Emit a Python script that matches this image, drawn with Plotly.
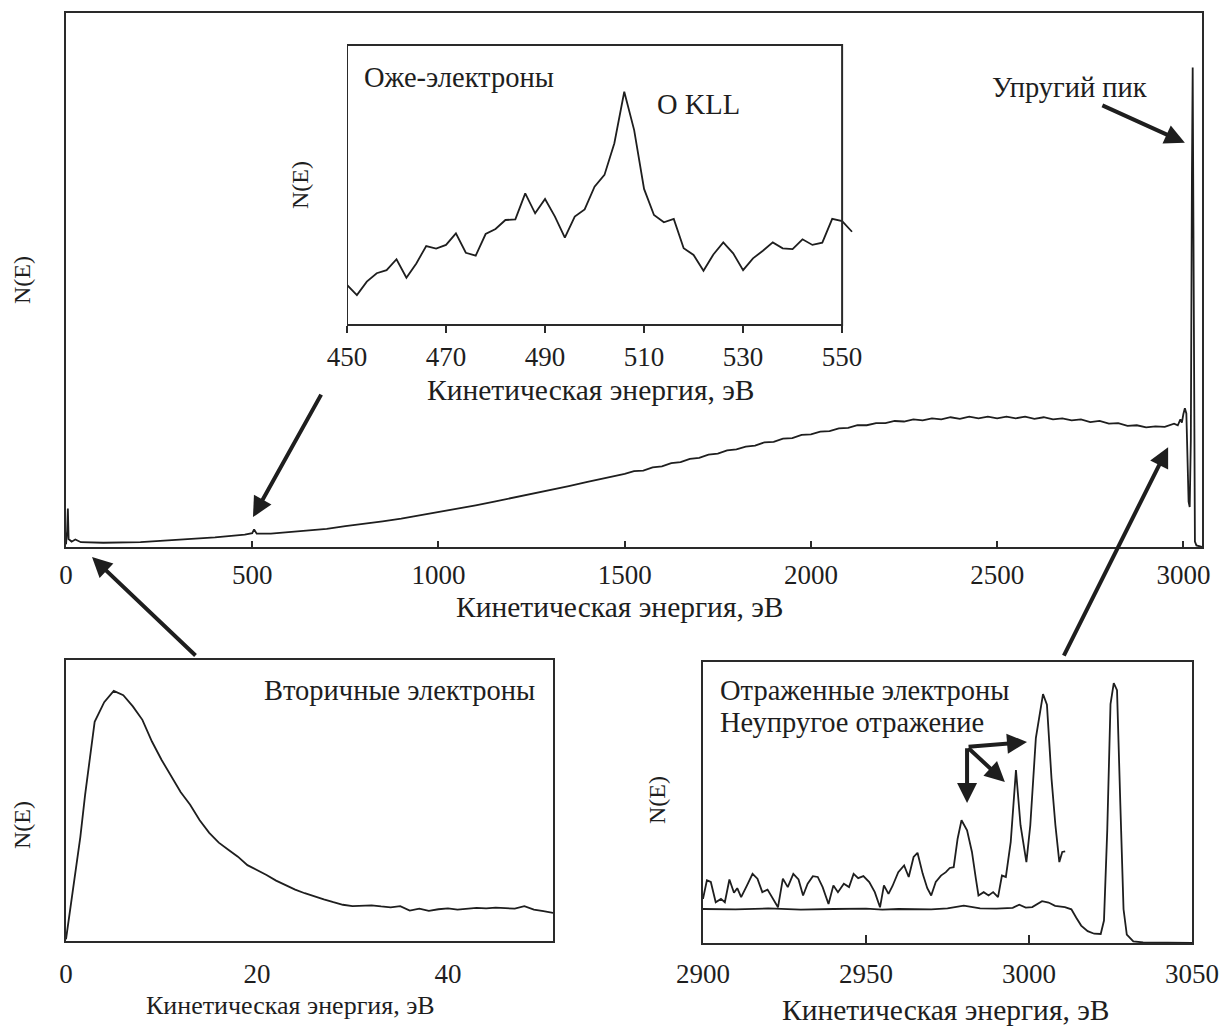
import plotly.graph_objects as go

# ---------------- data ----------------
# Full spectrum N(E), % of axis height
main_energy = [0, 3, 5, 7, 15, 25, 40, 100, 200, 300, 400, 480, 500, 505, 512, 550,
               600, 650, 700, 750, 800, 850, 900, 950, 1000, 1050, 1100, 1150, 1200,
               1250, 1300, 1350, 1400, 1450, 1500, 1525, 1550, 1575, 1600, 1625, 1650,
               1675, 1700, 1725, 1750, 1775, 1800, 1825, 1850, 1875, 1900, 1925, 1950,
               1975, 2000, 2025, 2050, 2075, 2100, 2125, 2150, 2175, 2200, 2225, 2250,
               2275, 2300, 2325, 2350, 2375, 2400, 2425, 2450, 2475, 2500, 2525, 2550,
               2575, 2600, 2625, 2650, 2675, 2700, 2725, 2750, 2775, 2800, 2825, 2850,
               2875, 2900, 2925, 2950, 2975, 2985, 2992, 2996, 3000, 3004, 3008, 3011,
               3014, 3017, 3020, 3023, 3025, 3027, 3029, 3031, 3035, 3050]
main_counts = [0.5, 3.0, 7.2, 1.5, 1.0, 1.4, 0.9, 0.8, 0.9, 1.3, 1.8, 2.3, 2.6, 3.3, 2.5, 2.5,
               2.8, 3.1, 3.4, 3.9, 4.3, 4.8, 5.3, 5.9, 6.5, 7.1, 7.8, 8.5, 9.2,
               9.9, 10.7, 11.4, 12.2, 12.9, 13.7, 14.2, 14.3, 14.9, 15.1, 15.7, 15.9,
               16.5, 16.7, 17.3, 17.5, 18.1, 18.3, 18.8, 19.0, 19.6, 19.7, 20.3, 20.4,
               21.0, 21.1, 21.6, 21.7, 22.2, 22.3, 22.8, 22.8, 23.2, 23.2, 23.6, 23.5,
               23.9, 23.7, 24.1, 23.9, 24.3, 24.0, 24.4, 24.1, 24.4, 24.1, 24.4, 24.1,
               24.4, 24.0, 24.3, 23.9, 24.1, 23.7, 23.9, 23.4, 23.6, 23.1, 23.2, 22.7,
               22.8, 22.4, 22.6, 22.5, 23.1, 22.8, 23.9, 23.3, 24.9, 26.0, 25.0, 17.0,
               8.5, 7.5, 20.0, 70.0, 89.8, 60.0, 8.0, 1.0, 0.3, 0.0]

# Auger region, O KLL
auger_energy = list(range(450, 553, 2))
auger_counts = [14.3, 10.7, 15.5, 18.5, 19.6, 23.5, 16.9, 22.0, 28.2, 27.3, 28.6, 32.7,
                25.8, 24.8, 32.5, 34.3, 37.5, 37.7, 47.0, 39.9, 45.0, 38.7, 31.2, 38.7,
                41.3, 49.4, 53.6, 64.9, 83.3, 69.6, 48.6, 39.3, 36.7, 37.9, 27.4, 25.0,
                19.4, 25.2, 29.5, 25.6, 19.6, 23.8, 26.5, 29.5, 27.4, 27.1, 30.6, 28.6,
                29.4, 37.9, 37.1, 33.3]

# Secondary electrons
sec_energy = [0, 1, 1.5, 2, 3, 4, 5, 6, 7, 8, 9, 10, 11, 12, 13, 14, 15, 16, 17, 18, 19,
              20, 21, 22, 23, 24, 25, 26, 27, 28, 29, 30, 31, 32, 33, 34, 35, 36, 37,
              38, 39, 40, 41, 42, 43, 44, 45, 46, 47, 48, 49, 50, 51]
sec_counts = [0.6, 25, 37, 52, 78, 85, 89, 87.5, 83.5, 78.7, 71, 64.5, 58.5, 53, 48.5,
              43, 38.5, 35, 32.5, 30, 27, 25.3, 23.5, 21.5, 19.8, 18.3, 17, 15.8, 14.8,
              13.8, 12.9, 12.4, 12.5, 12.7, 12.3, 12.0, 12.4, 10.8, 11.5, 10.7, 11.3,
              11.6, 11.2, 11.6, 11.8, 11.6, 11.9, 11.7, 11.5, 12.4, 11.2, 10.6, 10.0]

# Reflected electrons: magnified loss region
loss_energy = [2900.0, 2901.2, 2902.4, 2903.9, 2905.5, 2906.7, 2908.1, 2909.5, 2910.5,
               2911.7, 2913.5, 2915.2, 2916.7, 2918.2, 2919.8, 2921.4, 2923.0, 2924.5,
               2926.0, 2927.7, 2929.3, 2930.7, 2932.1, 2933.7, 2935.2, 2936.7, 2938.5,
               2940.0, 2941.4, 2943.2, 2944.8, 2946.2, 2947.6, 2949.2, 2951.0, 2952.7,
               2954.3, 2955.5, 2956.9, 2958.1, 2959.9, 2961.7, 2963.1, 2964.6, 2965.8,
               2967.4, 2968.8, 2970.0, 2971.4, 2973.0, 2974.5, 2975.7, 2976.9, 2978.1,
               2979.3, 2981.0, 2982.5, 2983.7, 2984.5, 2986.1, 2987.6, 2989.0, 2990.5,
               2991.7, 2992.9, 2994.4, 2996.0, 2997.4, 2999.2, 3000.4, 3002.1, 3004.3,
               3005.5, 3006.9, 3008.1, 3009.3, 3010.2, 3011.1]
loss_counts = [15.7, 22.3, 21.7, 14.5, 15.7, 14.5, 22.6, 17.9, 19.5, 16.3, 20.5, 24.6,
               22.9, 18.1, 19.0, 15.7, 12.7, 22.9, 19.9, 24.6, 22.6, 16.9, 21.1, 23.8,
               23.5, 19.9, 13.9, 20.5, 18.1, 21.1, 19.9, 24.6, 23.1, 23.8, 21.7, 18.1,
               12.7, 20.5, 17.5, 20.2, 25.2, 27.6, 23.5, 30.6, 32.1, 24.6, 19.5, 16.9,
               21.7, 24.0, 25.2, 26.7, 27.0, 37.1, 43.7, 40.1, 32.4, 22.9, 16.9, 18.1,
               16.9, 18.1, 16.3, 24.0, 23.5, 36.0, 61.5, 41.9, 28.8, 41.9, 72.9, 88.6,
               84.8, 58.6, 41.9, 28.8, 32.4, 32.6]

# Reflected electrons: unscaled spectrum with elastic peak
refl_energy = [2900, 2910, 2920, 2930, 2940, 2950, 2955, 2960, 2970, 2975, 2980, 2985,
               2990, 2995, 2997, 2999, 3001, 3004, 3006, 3008, 3011, 3013, 3014.5, 3016,
               3018, 3020, 3022, 3023, 3024, 3025, 3026, 3027, 3028, 3029, 3030, 3032,
               3035, 3050]
refl_counts = [12.1, 12.0, 12.3, 11.9, 12.1, 12.2, 11.9, 12.1, 12.0, 12.3, 13.3, 12.3,
               12.2, 12.5, 13.6, 12.6, 12.8, 14.9, 14.4, 13.2, 12.8, 12.0, 9.0, 6.2,
               4.2, 3.3, 3.2, 8.0, 40.0, 85.0, 92.5, 90.0, 50.0, 12.0, 3.0, 0.6,
               0.2, 0.0]

main_ticks = [0, 500, 1000, 1500, 2000, 2500, 3000]
auger_ticks = [450, 470, 490, 510, 530, 550]
sec_ticks = [0, 20, 40]
refl_ticks = [2900, 2950, 3000, 3050]

x_title = "Кинетическая энергия, эВ"
y_title = "N(E)"

# ---------------- styling ----------------
W, H = 1229, 1030
FONT = "Liberation Serif"
INK = "#1e1e1e"
LINE = dict(color=INK, width=1.8)
TICK_SIZE = 27
CAPTION_SIZE = 28.5
TITLE_SIZE = 29.5


def px(x):
    return x / W


def py(y):
    return 1 - y / H


fig = go.Figure()
fig.add_trace(go.Scatter(x=main_energy, y=main_counts, mode="lines", line=LINE,
                         xaxis="x", yaxis="y"))
fig.add_trace(go.Scatter(x=auger_energy, y=auger_counts, mode="lines", line=LINE,
                         xaxis="x2", yaxis="y2"))
fig.add_trace(go.Scatter(x=sec_energy, y=sec_counts, mode="lines", line=LINE,
                         xaxis="x3", yaxis="y3"))
fig.add_trace(go.Scatter(x=loss_energy, y=loss_counts, mode="lines", line=LINE,
                         xaxis="x4", yaxis="y4"))
fig.add_trace(go.Scatter(x=refl_energy, y=refl_counts, mode="lines", line=LINE,
                         xaxis="x4", yaxis="y4"))

tickfont = dict(family=FONT, size=TICK_SIZE, color=INK)
frame = dict(showline=True, linecolor="#2a2a2a", linewidth=2, mirror=True,
             showgrid=False, zeroline=False)

fig.update_layout(
    width=W, height=H,
    margin=dict(l=0, r=0, t=0, b=0, autoexpand=False),
    paper_bgcolor="white", plot_bgcolor="rgba(0,0,0,0)",
    showlegend=False,
    font=dict(family=FONT, color=INK),
    # full spectrum
    xaxis=dict(domain=[px(66), px(1202)], range=[0, 3050], anchor="y",
               tickvals=main_ticks, ticks="inside", ticklen=6, tickwidth=1.5,
               tickcolor="#2a2a2a", tickfont=tickfont, ticklabelstandoff=3, **frame),
    yaxis=dict(domain=[py(547), py(13)], range=[0, 100], anchor="x",
               showticklabels=False, ticks="", **frame),
    # Auger inset (curve runs slightly past the frame on the right)
    xaxis2=dict(domain=[px(347), px(853)], range=[450, 552.2], anchor="y2",
                tickvals=auger_ticks, ticks="outside", ticklen=7, tickwidth=1.5,
                tickcolor="#2a2a2a", tickfont=tickfont, ticklabelstandoff=1,
                showline=False, showgrid=False, zeroline=False),
    yaxis2=dict(domain=[py(325), py(45)], range=[0, 100], anchor="x2",
                showticklabels=False, ticks="", showline=False, showgrid=False,
                zeroline=False),
    # secondary electrons
    xaxis3=dict(domain=[px(66), px(553)], range=[0, 51], anchor="y3",
                tickvals=sec_ticks, ticks="", tickfont=tickfont,
                ticklabelstandoff=8, **frame),
    yaxis3=dict(domain=[py(941), py(660)], range=[0, 100], anchor="x3",
                showticklabels=False, ticks="", **frame),
    # reflected electrons
    xaxis4=dict(domain=[px(703), px(1192)], range=[2900, 3050], anchor="y4",
                tickvals=refl_ticks, ticks="inside", ticklen=8, tickwidth=1.5,
                tickcolor="#2a2a2a", tickfont=tickfont, ticklabelstandoff=6, **frame),
    yaxis4=dict(domain=[py(943), py(662)], range=[0, 100], anchor="x4",
                showticklabels=False, ticks="", **frame),
)

# frame of the Auger inset
fig.add_shape(type="rect", xref="x2", yref="y2 domain", x0=450, x1=550, y0=0, y1=1,
              line=dict(color="#2a2a2a", width=2), fillcolor="rgba(0,0,0,0)")


def label(x, y, text, xanchor="center", angle=0, size=CAPTION_SIZE):
    fig.add_annotation(x=px(x), y=py(y), xref="paper", yref="paper", text=text,
                       showarrow=False, xanchor=xanchor, yanchor="middle",
                       textangle=angle, font=dict(family=FONT, size=size, color=INK))


# axis titles
label(620, 607, x_title, size=TITLE_SIZE)
label(591, 390, x_title, size=TITLE_SIZE)
label(290, 1005, x_title, size=26)
label(946, 1010, x_title, size=TITLE_SIZE)
label(22, 280, y_title, angle=-90, size=24)
label(300, 185, y_title, angle=-90, size=24)
label(22, 825, y_title, angle=-90, size=24)
label(657, 800, y_title, angle=-90, size=24)

# captions
label(362, 77, "Оже-электроны", xanchor="left")
label(655, 104, "O KLL", xanchor="left")
label(990, 87, "Упругий пик", xanchor="left")
label(262, 690, "Вторичные электроны", xanchor="left")
label(718, 690, "Отраженные электроны", xanchor="left")
label(718, 722, "Неупругое отражение", xanchor="left")

arrow = dict(showarrow=True, text="", arrowhead=2, arrowsize=1.0, arrowwidth=4,
             arrowcolor=INK)

# pointers on the full spectrum (tail offsets in pixels)
fig.add_annotation(x=502, y=5.6, xref="x", yref="y", ax=69, ay=-124, **arrow)
fig.add_annotation(x=px(92), y=py(557), xref="paper", yref="paper", ax=105, ay=100, **arrow)
fig.add_annotation(x=2959, y=18.7, xref="x", yref="y", ax=-105, ay=210, **arrow)
fig.add_annotation(x=3004, y=75.7, xref="x", yref="y", ax=-84, ay=-38, **arrow)

# inelastic loss pointers, all starting from one point
for hx, hy in [(2981, 49.8), (2999.4, 71.5), (2992.6, 57.3)]:
    fig.add_annotation(x=hx, y=hy, xref="x4", yref="y4", ax=2981, ay=69.8,
                       axref="x4", ayref="y4", **arrow)

fig.write_html("out.html")
